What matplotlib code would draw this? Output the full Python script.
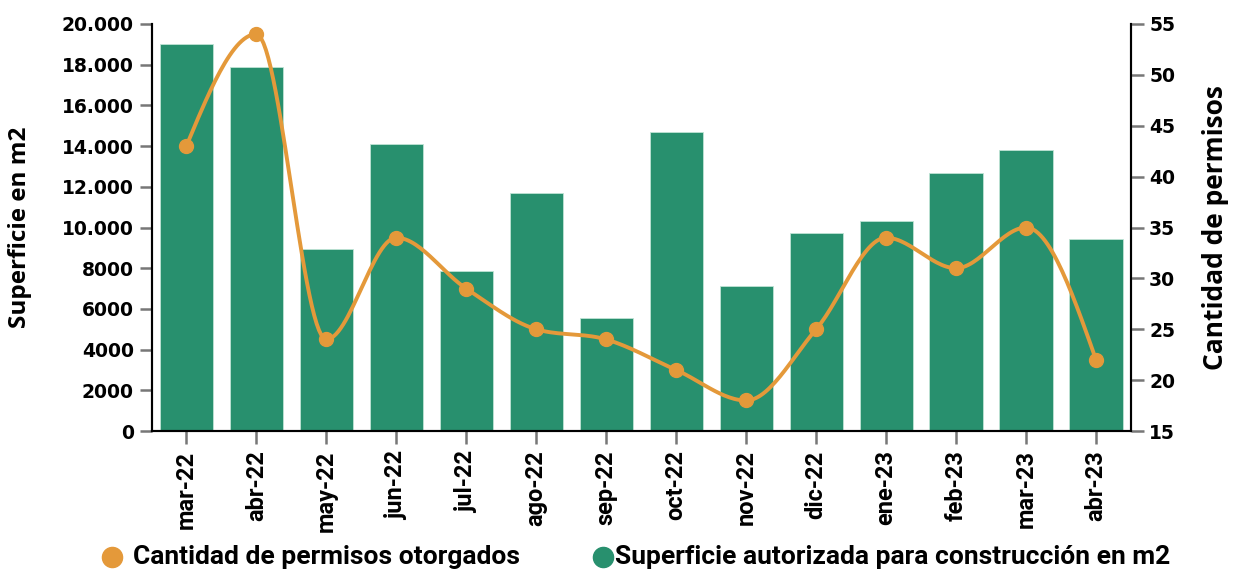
import numpy as np
import matplotlib
matplotlib.use("Agg")
import matplotlib.pyplot as plt
from matplotlib.ticker import FuncFormatter
from matplotlib.lines import Line2D

# data
meses = ["mar-22", "abr-22", "may-22", "jun-22", "jul-22", "ago-22", "sep-22",
         "oct-22", "nov-22", "dic-22", "ene-23", "feb-23", "mar-23", "abr-23"]
superficie = [19000, 17900, 8950, 14100, 7850, 11700, 5550,
              14700, 7150, 9750, 10300, 12700, 13800, 9450]
permisos = [43, 54, 24, 34, 29, 25, 24, 21, 18, 25, 34, 31, 35, 22]

verde = "#28906e"
naranja = "#e4993a"


def monotone(x, y, n=30):
    # monotone cubic (Steffen), like d3.curveMonotoneX
    x = np.asarray(x, float)
    y = np.asarray(y, float)
    h = np.diff(x)
    s = np.diff(y) / h
    t = np.zeros(len(x))
    for i in range(1, len(x) - 1):
        p = (s[i - 1] * h[i] + s[i] * h[i - 1]) / (h[i - 1] + h[i])
        t[i] = (np.sign(s[i - 1]) + np.sign(s[i])) * min(abs(s[i - 1]), abs(s[i]), 0.5 * abs(p))
    t[0] = (3 * s[0] - t[1]) / 2
    t[-1] = (3 * s[-1] - t[-2]) / 2
    xs, ys = [], []
    for i in range(len(x) - 1):
        u = np.linspace(0, 1, n)
        h00 = 2 * u**3 - 3 * u**2 + 1
        h10 = u**3 - 2 * u**2 + u
        h01 = -2 * u**3 + 3 * u**2
        h11 = u**3 - u**2
        xs.append(x[i] + u * h[i])
        ys.append(h00 * y[i] + h10 * h[i] * t[i] + h01 * y[i + 1] + h11 * h[i] * t[i + 1])
    return np.concatenate(xs), np.concatenate(ys)


fig = plt.figure(figsize=(12.33, 5.74), dpi=100)
ax = fig.add_axes([0.1233, 0.2491, 0.9173 - 0.1233, 0.9582 - 0.2491])
ax2 = ax.twinx()

pos = np.arange(len(meses))
ax.bar(pos, superficie, width=0.76, color=verde, edgecolor="#bfe3d5", linewidth=0.6, zorder=2)
ax.set_xlim(-0.49, len(meses) - 0.5)
ax.set_ylim(0, 20000)
ax.set_yticks(np.arange(0, 20001, 2000))


def fmt(v, p):
    v = int(v)
    if v >= 10000:
        return f"{v:,}".replace(",", ".")
    return str(v)


ax.yaxis.set_major_formatter(FuncFormatter(fmt))
ax.set_xticks(pos)
ax.set_xticklabels(meses, rotation=90, family="Roboto", fontweight="bold", fontsize=17)

xs, ys = monotone(pos, permisos)
ax2.plot(xs, ys, color=naranja, lw=2.8, zorder=3)
ax2.plot(pos, permisos, "o", color=naranja, ms=10, zorder=4)
ax2.set_ylim(15, 55)
ax2.set_yticks(range(15, 56, 5))

for a in (ax, ax2):
    a.spines["top"].set_visible(False)
    a.spines["left"].set_linewidth(1.5)
    a.spines["right"].set_linewidth(1.5)
    a.spines["bottom"].set_linewidth(1.5)
    a.tick_params(axis="y", length=9, width=1.8, color="#777777", pad=4)
    for lab in a.get_yticklabels():
        lab.set_family("DejaVu Sans")
        lab.set_fontweight("bold")
        lab.set_fontsize(13.5)
ax.tick_params(axis="x", length=9, width=1.8, color="#777777", pad=5)

ax.set_ylabel("Superficie en m2", family="Open Sans", fontweight="bold", fontsize=17.5)
ax.yaxis.set_label_coords(-0.1226, 0.5)
ax2.set_ylabel("Cantidad de permisos", family="Open Sans", fontweight="bold", fontsize=19)
ax2.yaxis.set_label_coords(1.0725, 0.5)

# legend at the bottom
fig.add_artist(Line2D([0.0908], [0.0296], marker="o", color=naranja, ms=14.5, transform=fig.transFigure))
fig.text(0.1079, 0.0296, "Cantidad de permisos otorgados", family="Roboto", fontweight="bold",
         fontsize=19, va="center", ha="left")
fig.add_artist(Line2D([0.489], [0.0296], marker="o", color=verde, ms=14.5, transform=fig.transFigure))
fig.text(0.4988, 0.0296, "Superficie autorizada para construcción en m2", family="Roboto",
         fontweight="bold", fontsize=19, va="center", ha="left")

fig.savefig("out.png", dpi=100)
